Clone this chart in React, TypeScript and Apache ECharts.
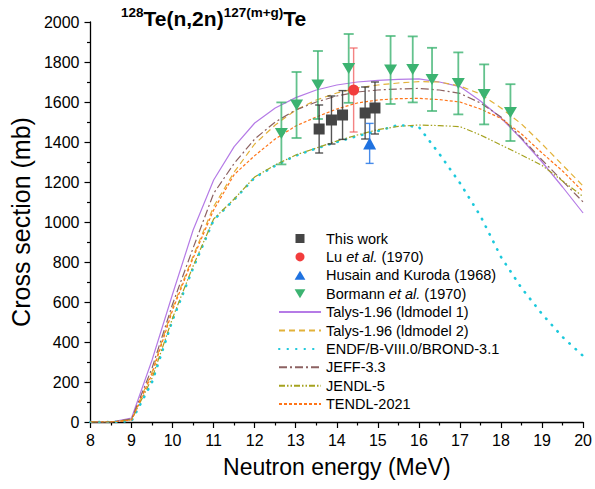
import React, { useEffect, useRef } from "react";
import * as echarts from "echarts";

const FONT = '"Liberation Sans", Arial, Helvetica, sans-serif';

// Model curves (energy in MeV, cross section in mb)
const energies = [8, 8.5, 9, 9.5, 10, 10.5, 11, 11.5, 12, 12.5, 13, 13.5, 14, 14.5, 15, 15.5, 16, 16.5, 17, 17.5, 18, 18.5, 19, 19.5, 20];
const talys1 = [0, 0, 20, 310, 640, 960, 1210, 1377, 1495, 1570, 1622, 1660, 1685, 1700, 1708, 1713, 1716, 1700, 1677, 1605, 1520, 1415, 1300, 1175, 1045];
const talys2 = [0, 0, 12, 250, 570, 830, 1077, 1250, 1390, 1485, 1560, 1610, 1645, 1670, 1685, 1695, 1702, 1700, 1680, 1640, 1570, 1490, 1390, 1285, 1180];
const endf = [0, 0, 5, 200, 510, 770, 1010, 1112, 1222, 1282, 1332, 1368, 1400, 1430, 1455, 1485, 1475, 1340, 1195, 1030, 825, 670, 540, 425, 330];
const jeff = [0, 0, 15, 270, 590, 870, 1143, 1293, 1415, 1500, 1560, 1600, 1630, 1650, 1660, 1665, 1668, 1660, 1643, 1595, 1525, 1420, 1310, 1205, 1100];
const jendl = [0, 0, 10, 220, 520, 780, 1015, 1115, 1225, 1285, 1335, 1370, 1405, 1435, 1462, 1478, 1485, 1482, 1477, 1435, 1385, 1335, 1283, 1205, 1127];
const tendl = [0, 0, 10, 240, 560, 820, 1060, 1237, 1332, 1415, 1480, 1525, 1565, 1595, 1610, 1617, 1618, 1612, 1600, 1565, 1518, 1440, 1345, 1255, 1152];

// Experimental data
const thisWorkX = [13.57, 13.87, 14.14, 14.69, 14.93];
const thisWorkY = [1465, 1510, 1535, 1545, 1570];
const thisWorkErr = [120, 120, 122, 130, 130];

const luX = [14.41];
const luY = [1660];
const luErr = [210];

const husainX = [14.8];
const husainY = [1393];
const husainErr = [100];

const bormannX = [12.65, 13.02, 13.54, 14.29, 15.31, 15.85, 16.32, 16.96, 17.59, 18.23];
const bormannY = [1443, 1585, 1685, 1768, 1760, 1763, 1713, 1693, 1638, 1547];
const bormannErr = [155, 165, 170, 172, 170, 165, 158, 155, 150, 142];

const xTicks = [8, 9, 10, 11, 12, 13, 14, 15, 16, 17, 18, 19, 20];
const yTicks = [0, 200, 400, 600, 800, 1000, 1200, 1400, 1600, 1800, 2000];

const pairs = (xs: number[], ys: number[]) => xs.map((x, i) => [x, ys[i]]);
const errData = (xs: number[], ys: number[], es: number[]) =>
  xs.map((x, i) => [x, ys[i] - es[i], ys[i] + es[i]]);

function errorSeries(name: string, data: number[][], color: string, cap: number, width: number) {
  return {
    name,
    type: "custom",
    data,
    encode: { x: 0, y: [1, 2] },
    z: 4,
    renderItem: (params: any, api: any) => {
      const x = api.value(0);
      const lo = api.coord([x, api.value(1)]);
      const hi = api.coord([x, api.value(2)]);
      const h = cap / 2;
      const style = { stroke: color, lineWidth: width, fill: "none" };
      return {
        type: "group",
        children: [
          { type: "line", shape: { x1: lo[0], y1: lo[1], x2: hi[0], y2: hi[1] }, style },
          { type: "line", shape: { x1: lo[0] - h, y1: lo[1], x2: lo[0] + h, y2: lo[1] }, style },
          { type: "line", shape: { x1: hi[0] - h, y1: hi[1], x2: hi[0] + h, y2: hi[1] }, style },
        ],
      };
    },
  };
}

function lineSeries(name: string, ys: number[], color: string, type: any, width = 1.2, cap: any = "butt") {
  return {
    name,
    type: "line",
    data: pairs(energies, ys),
    symbol: "none",
    showSymbol: false,
    z: 2,
    lineStyle: { color, width, type, cap },
    itemStyle: { color },
  };
}

const SQUARE = "path://M0,0 L10,0 L10,10 L0,10 Z";
const CIRCLE = "path://M5,0 A5,5 0 1,1 5,10 A5,5 0 1,1 5,0 Z";
const UP_TRI = "path://M6,0 L12,10 L0,10 Z";
const DOWN_TRI = "path://M0,0 L12,0 L6,10 Z";

export default function App() {
  const ref = useRef<HTMLDivElement>(null);
  useEffect(() => {
    if (!ref.current) return;
    const chart = echarts.init(ref.current, undefined, { renderer: "svg" });
    const scatterNames = ["This work", "Lu et al. (1970)", "Husain and Kuroda (1968)", "Bormann et al. (1970)"];
    const lineNames = [
      "Talys-1.96 (ldmodel 1)",
      "Talys-1.96 (ldmodel 2)",
      "ENDF/B-VIII.0/BROND-3.1",
      "JEFF-3.3",
      "JENDL-5",
      "TENDL-2021",
    ];
    chart.setOption({
      animation: false,
      backgroundColor: "#ffffff",
      textStyle: { fontFamily: FONT },
      grid: { left: 89, top: 22, right: 9, bottom: 67, containLabel: false },
      graphic: [
        {
          type: "text",
          left: 121,
          top: 5,
          style: {
            text: "{s|128}{b|Te(n,2n)}{s|127(m+g)}{b|Te}",
            fill: "#000",
            rich: {
              b: { fontSize: 21, fontWeight: "bold", fontFamily: FONT, lineHeight: 27, fill: "#000" },
              s: { fontSize: 13.5, fontWeight: "bold", fontFamily: FONT, lineHeight: 13, verticalAlign: "top", fill: "#000" },
            },
          },
        },
      ],
      legend: {
        orient: "vertical",
        left: 273,
        top: 226,
        itemWidth: 42,
        itemHeight: 9,
        itemGap: 3.4,
        symbolKeepAspect: true,
        data: [
          ...scatterNames.map((n) => ({ name: n })),
          ...lineNames.map((n) => ({ name: n, itemStyle: { opacity: 0 } })),
        ],
        textStyle: {
          fontFamily: FONT,
          fontSize: 14.5,
          color: "#000",
          lineHeight: 15,
          rich: { i: { fontStyle: "italic", fontSize: 14.5, fontFamily: FONT, color: "#000", lineHeight: 15 } },
        },
        formatter: (name: string) => name.replace("et al.", "{i|et al.}"),
      },
      xAxis: {
        type: "value",
        min: xTicks[0],
        max: xTicks[xTicks.length - 1],
        interval: 1,
        name: "Neutron energy (MeV)",
        nameLocation: "middle",
        nameGap: 33,
        nameTextStyle: { fontSize: 23, fontFamily: FONT, color: "#000" },
        axisLine: { onZero: false, lineStyle: { color: "#000", width: 1.3 } },
        axisTick: { inside: false, length: 6, lineStyle: { color: "#000", width: 1.2 } },
        minorTick: { show: true, splitNumber: 2, length: 3.5, lineStyle: { color: "#000", width: 1.2 } },
        axisLabel: { fontSize: 16, color: "#000", fontFamily: FONT, margin: 10, formatter: (v: number) => String(v) },
        splitLine: { show: false },
      },
      yAxis: {
        type: "value",
        min: yTicks[0],
        max: yTicks[yTicks.length - 1],
        interval: 200,
        name: "Cross section (mb)",
        nameLocation: "middle",
        nameGap: 57,
        nameTextStyle: { fontSize: 25, fontFamily: FONT, color: "#000" },
        axisLine: { show: true, onZero: false, lineStyle: { color: "#000", width: 1.3 } },
        axisTick: { show: true, inside: false, length: 6, lineStyle: { color: "#000", width: 1.2 } },
        minorTick: { show: true, splitNumber: 2, length: 3.5, lineStyle: { color: "#000", width: 1.2 } },
        axisLabel: { fontSize: 16, color: "#000", fontFamily: FONT, margin: 11, formatter: (v: number) => String(v) },
        splitLine: { show: false },
      },
      series: [
        lineSeries("Talys-1.96 (ldmodel 1)", talys1, "#b57be6", "solid", 1.2),
        lineSeries("Talys-1.96 (ldmodel 2)", talys2, "#e2b23a", [6, 4], 1.2),
        lineSeries("ENDF/B-VIII.0/BROND-3.1", endf, "#1cc9dc", [0.5, 8], 2.6, "round"),
        lineSeries("JEFF-3.3", jeff, "#8c6262", [8, 3, 2, 3], 1.2),
        lineSeries("JENDL-5", jendl, "#a5a21e", [6, 2, 1.5, 2, 1.5, 2], 1.2),
        lineSeries("TENDL-2021", tendl, "#ff7418", [3, 2], 1.2),
        errorSeries("errBormann", errData(bormannX, bormannY, bormannErr), "rgba(60,179,113,0.8)", 10, 1.8),
        errorSeries("errThisWork", errData(thisWorkX, thisWorkY, thisWorkErr), "rgba(55,55,55,0.85)", 8, 1.4),
        errorSeries("errLu", errData(luX, luY, luErr), "rgba(240,90,90,0.75)", 8, 1.4),
        errorSeries("errHusain", errData(husainX, husainY, husainErr), "rgba(40,120,230,0.85)", 8, 1.4),
        {
          name: "Bormann et al. (1970)",
          type: "scatter",
          data: pairs(bormannX, bormannY),
          symbol: DOWN_TRI,
          symbolSize: [13, 11],
          itemStyle: { color: "#3cb371", opacity: 1 },
          z: 5,
        },
        {
          name: "This work",
          type: "scatter",
          data: pairs(thisWorkX, thisWorkY),
          symbol: SQUARE,
          symbolSize: 11,
          itemStyle: { color: "#454545", opacity: 1 },
          z: 6,
        },
        {
          name: "Lu et al. (1970)",
          type: "scatter",
          data: pairs(luX, luY),
          symbol: CIRCLE,
          symbolSize: 11,
          itemStyle: { color: "#f23c3c", opacity: 1 },
          z: 6,
        },
        {
          name: "Husain and Kuroda (1968)",
          type: "scatter",
          data: pairs(husainX, husainY),
          symbol: UP_TRI,
          symbolSize: [13, 12],
          itemStyle: { color: "#1f72e0", opacity: 1 },
          z: 6,
        },
      ],
    });
    return () => chart.dispose();
  }, []);
  return <div ref={ref} style={{ width: 595, height: 489, position: "absolute", left: 0, top: 0 }} />;
}
